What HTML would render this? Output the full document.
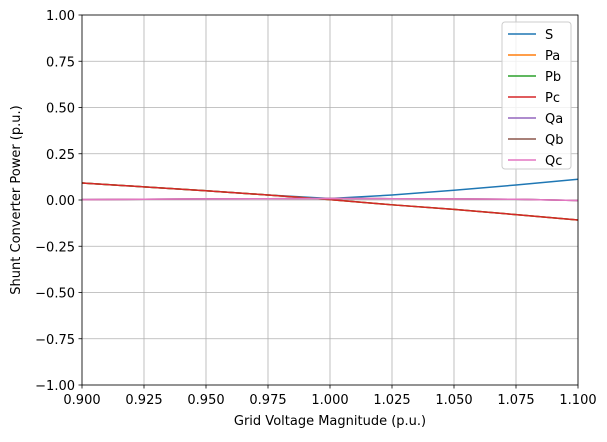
<!DOCTYPE html>
<html><head><meta charset="utf-8"><style>
body{margin:0;background:#fff;font-family:"DejaVu Sans",sans-serif}
svg text{font-family:"DejaVu Sans",sans-serif;font-size:13px;fill:#000}
</style></head><body>
<svg id="chart" width="607" height="438">
<g id="grid"></g>
<g id="lines"></g>
<g id="axes"></g>
<text x="330" y="425" text-anchor="middle">Grid Voltage Magnitude (p.u.)</text>
<text transform="translate(20,200) rotate(-90)" text-anchor="middle">Shunt Converter Power (p.u.)</text>
<g id="legend"></g>
</svg>
<script>
const xVals=[0.9,0.925,0.95,0.975,1.0,1.025,1.05,1.075,1.1];
const pVals=[0.092,0.071,0.050,0.027,0.002,-0.026,-0.051,-0.079,-0.108];
const sVals=[0.092,0.071,0.050,0.027,0.008,0.027,0.053,0.081,0.112];
const qVals=[0.002,0.004,0.006,0.007,0.008,0.007,0.006,0.004,-0.003];
const xTicks=[0.9,0.925,0.95,0.975,1.0,1.025,1.05,1.075,1.1];
const yTicks=[-1,-0.75,-0.5,-0.25,0,0.25,0.5,0.75,1];
const seriesNames=["S","Pa","Pb","Pc","Qa","Qb","Qc"];
const colors=["#1f77b4","#ff7f0e","#2ca02c","#d62728","#9467bd","#8c564b","#e377c2"];
const L=82,R=578,T=15,B=385;
const sx=v=>L+(v-0.9)/0.2*(R-L), sy=v=>T+(1-v)/2*(B-T);
const NS="http://www.w3.org/2000/svg";
function mk(t,a,p){const e=document.createElementNS(NS,t);for(const k in a)e.setAttribute(k,a[k]);p.appendChild(e);return e;}
const grid=document.getElementById('grid'),axes=document.getElementById('axes'),lines=document.getElementById('lines'),leg=document.getElementById('legend');
xTicks.forEach(v=>{const x=sx(v);
 const g=mk('line',{x1:x,x2:x,y1:T,y2:B,stroke:'#b0b0b0','stroke-width':0.8},grid);
 
 mk('line',{x1:x,x2:x,y1:B,y2:B+3.5,stroke:'#000','stroke-width':0.8},axes);
 const t=mk('text',{x:x,y:B+19,'text-anchor':'middle'},axes);t.textContent=v.toFixed(3);
 });
yTicks.forEach(v=>{const y=sy(v);
 const g=mk('line',{x1:L,x2:R,y1:y,y2:y,stroke:'#b0b0b0','stroke-width':0.8},grid);
 
 mk('line',{x1:L-3.5,x2:L,y1:y,y2:y,stroke:'#000','stroke-width':0.8},axes);
 const t=mk('text',{x:L-7,y:y+5,'text-anchor':'end'},axes);t.textContent=v.toFixed(2).replace('-','\u2212');
 });
const fr=mk('rect',{x:L,y:T,width:R-L,height:B-T,fill:'none',stroke:'#000','stroke-width':0.8},axes);

const data=[sVals,pVals,pVals,pVals,qVals,qVals,qVals];
data.forEach((d,i)=>{const p=mk('polyline',{points:d.map((v,j)=>sx(xVals[j])+','+sy(v)).join(' '),fill:'none',stroke:colors[i],'stroke-width':1.5},lines);
 });
const lb=mk('rect',{x:502,y:22,width:69,height:147,rx:3,fill:'#fff','fill-opacity':0.8,stroke:'#ccc'},leg);

seriesNames.forEach((n,i)=>{const y=34+i*21;
 const g=mk('g',{},leg);
 mk('line',{x1:508,x2:536,y1:y,y2:y,stroke:colors[i],'stroke-width':1.5},g);
 const t=mk('text',{x:545,y:y+5},g);t.textContent=n;});
</script>
</body></html>
